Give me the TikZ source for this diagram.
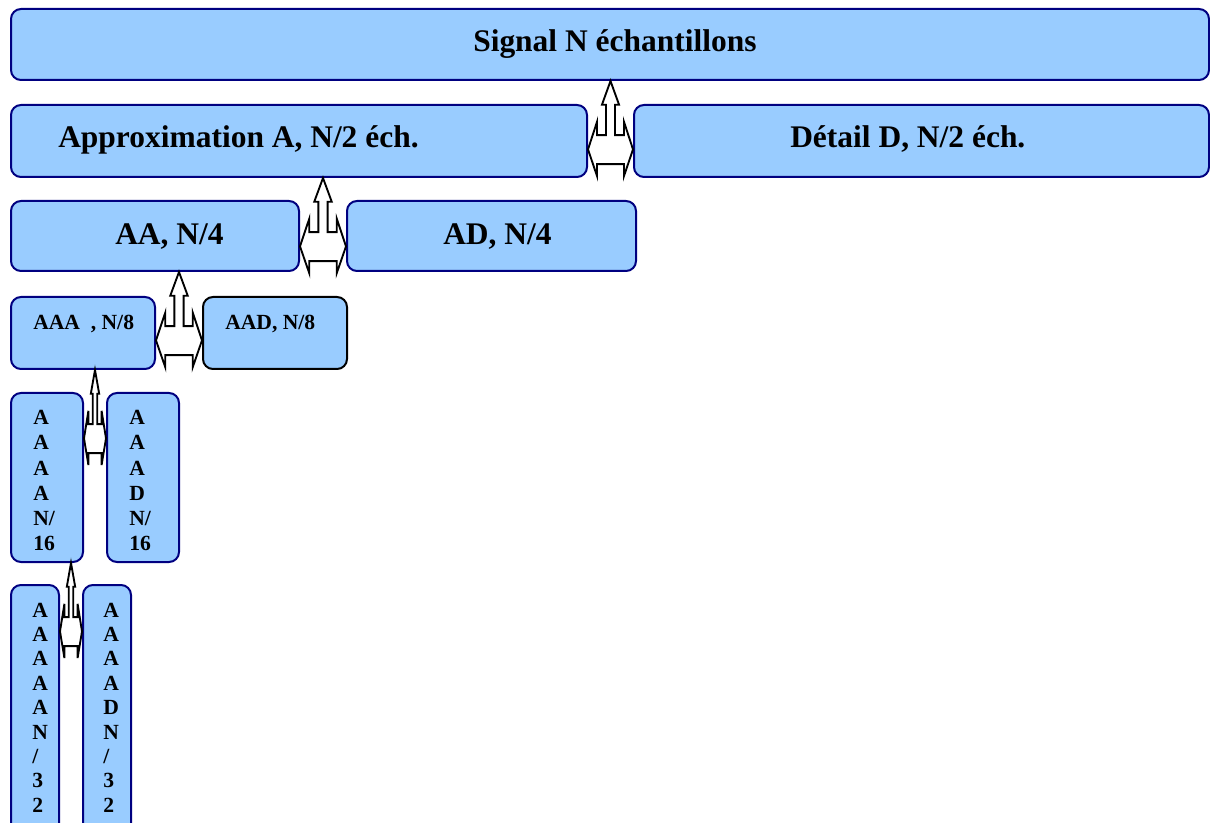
\documentclass[tikz,border=0pt]{standalone}
\usepackage{fontspec}
\setmainfont{Liberation Serif}
\usetikzlibrary{fit,calc}
\definecolor{boxblue}{RGB}{153,204,255}
\definecolor{boxnavy}{RGB}{0,0,128}
\tikzset{
  box/.style={draw=boxnavy, fill=boxblue, line width=1.5pt, rounded corners=7.5pt, inner sep=0pt},
  blockarrow/.style={draw=black, fill=white, line width=1.4pt, line join=miter},
  bigtxt/.style={inner sep=0pt, anchor=base west, font=\bfseries\fontsize{23.6}{28}\selectfont},
  smalltxt/.style={inner sep=0pt, anchor=base west, font=\bfseries\fontsize{16.2}{19}\selectfont}
}
% up arrow into the parent box, with a left-right arrow between the two children
\newcommand{\splitarrow}[3]{%
  \draw[blockarrow] let \p1=(#1.east), \p2=(#2.west), \p3=(#3.south),
      \n1={\x2-\x1}, \n2={(\x1+\x2)/2}, \n3={\y3}, \n4={71.25} in
    ({\n2*1pt},{\n3*1pt})
    -- ({(\n2+0.19*\n1)*1pt},{(\n3-0.25*\n4)*1pt})
    -- ({(\n2+0.10*\n1)*1pt},{(\n3-0.25*\n4)*1pt})
    -- ({(\n2+0.10*\n1)*1pt},{(\n3-0.57*\n4)*1pt})
    -- ({(\n2+0.30*\n1)*1pt},{(\n3-0.57*\n4)*1pt})
    -- ({(\n2+0.30*\n1)*1pt},{(\n3-0.43*\n4)*1pt})
    -- ({(\n2+0.50*\n1)*1pt},{(\n3-0.72*\n4)*1pt})
    -- ({(\n2+0.30*\n1)*1pt},{(\n3-\n4)*1pt})
    -- ({(\n2+0.30*\n1)*1pt},{(\n3-0.875*\n4)*1pt})
    -- ({(\n2-0.30*\n1)*1pt},{(\n3-0.875*\n4)*1pt})
    -- ({(\n2-0.30*\n1)*1pt},{(\n3-\n4)*1pt})
    -- ({(\n2-0.50*\n1)*1pt},{(\n3-0.72*\n4)*1pt})
    -- ({(\n2-0.30*\n1)*1pt},{(\n3-0.43*\n4)*1pt})
    -- ({(\n2-0.30*\n1)*1pt},{(\n3-0.57*\n4)*1pt})
    -- ({(\n2-0.10*\n1)*1pt},{(\n3-0.57*\n4)*1pt})
    -- ({(\n2-0.10*\n1)*1pt},{(\n3-0.25*\n4)*1pt})
    -- ({(\n2-0.19*\n1)*1pt},{(\n3-0.25*\n4)*1pt})
    -- cycle;}

\begin{document}
\begin{tikzpicture}[x=0.75pt, y=-0.75pt]
\path[use as bounding box] (0,0) rectangle (1210,823);
\clip (0,0) rectangle (1210,823);
%draw boxes
    \node[box, fit={(11,9) (1209,80)}] (sig) {};
    \node[box, fit={(11,105) (587,177)}] (app) {};
    \node[box, fit={(634,105) (1209,177)}] (det) {};
    \node[box, fit={(11,201) (299,271)}] (aa) {};
    \node[box, fit={(347,201) (636,271)}] (ad) {};
    \node[box, fit={(11,297) (155,369)}] (aaa) {};
    \node[box, draw=black, fit={(203,297) (347,369)}] (aad) {};
    \node[box, fit={(11,393) (83,562)}] (aaaa) {};
    \node[box, fit={(107,393) (179,562)}] (aaad) {};
    \node[box, fit={(11,585) (59,840)}] (aaaaa) {};
    \node[box, fit={(83,585) (131,840)}] (aaaad) {};
%draw split arrows
    \splitarrow{app}{det}{sig}
    \splitarrow{aa}{ad}{app}
    \splitarrow{aaa}{aad}{aa}
    \splitarrow{aaaa}{aaad}{aaa}
    \splitarrow{aaaaa}{aaaad}{aaaa}
%insert box labels
    \node[bigtxt] (tsig) at (473,52) {Signal N échantillons};
    \node[bigtxt] (tapp) at (58,148) {Approximation A, N/2 éch.};
    \node[bigtxt] (tdet) at (790,148) {Détail D, N/2 éch.};
    \node[bigtxt] (taa) at (115,245) {AA, N/4};
    \node[bigtxt] (tad) at (443,245) {AD, N/4};
    \node[smalltxt] (taaa) at (33,330) {AAA\ \ , N/8};
    \node[smalltxt] (taad) at (225,330) {AAD, N/8};
%insert column labels
    \foreach \c [count=\i] in {A,A,A,A,N/,16}
       \node[smalltxt] (taaaa-\i) at (33,{425+25*(\i-1)}) {\c};
    \foreach \c [count=\i] in {A,A,A,D,N/,16}
       \node[smalltxt] (taaad-\i) at (129,{425+25*(\i-1)}) {\c};
    \foreach \c [count=\i] in {A,A,A,A,A,N,/,3,2}
       \node[smalltxt] (taaaaa-\i) at (32,{617+24.4*(\i-1)}) {\c};
    \foreach \c [count=\i] in {A,A,A,A,D,N,/,3,2}
       \node[smalltxt] (taaaad-\i) at (103,{617+24.4*(\i-1)}) {\c};
\end{tikzpicture}
\end{document}
